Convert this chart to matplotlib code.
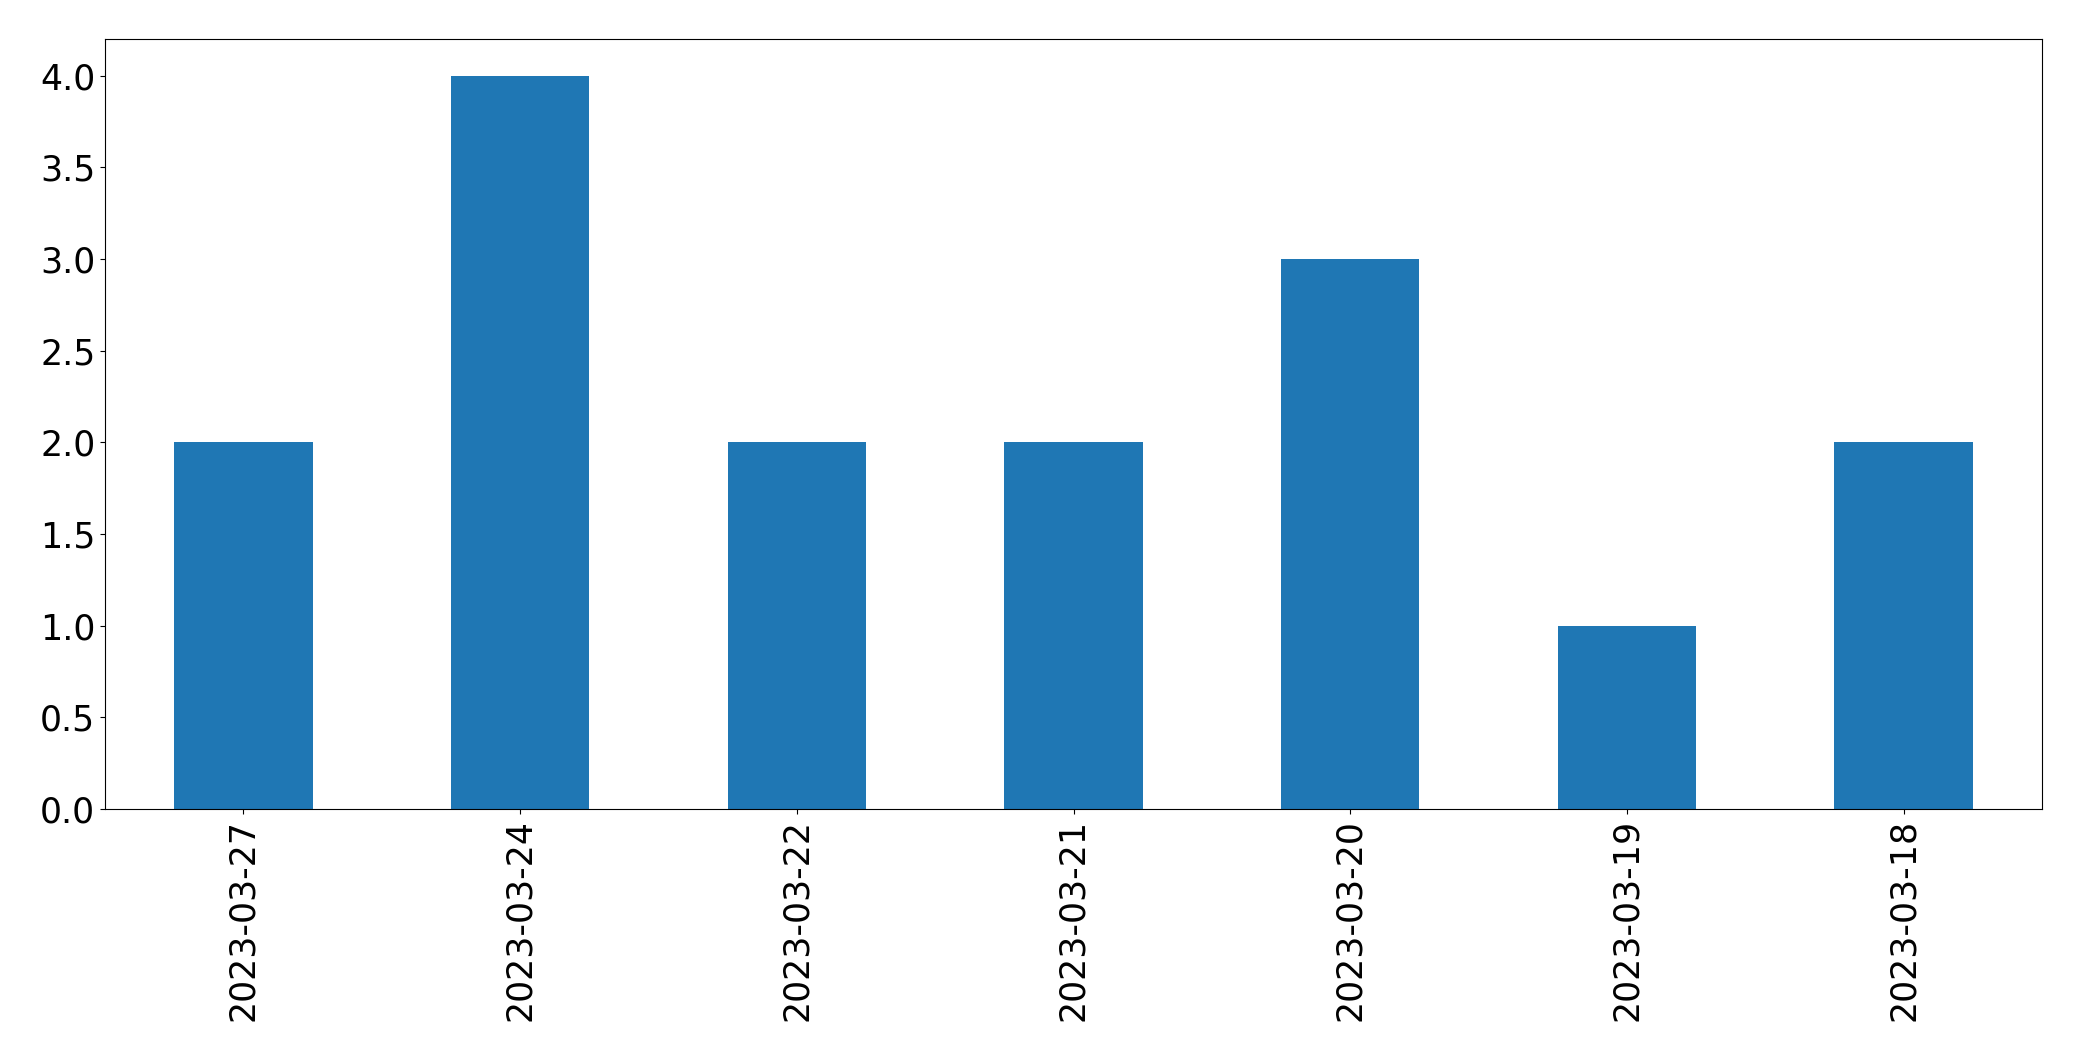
import numpy as np
import matplotlib.pyplot as plt

dates = ['2023-03-27', '2023-03-24', '2023-03-22', '2023-03-21',
         '2023-03-20', '2023-03-19', '2023-03-18']
counts = [2, 4, 2, 2, 3, 1, 2]

W, H = 2082, 1061
fig = plt.figure(figsize=(W / 100, H / 100), dpi=100)
ax = fig.add_axes([105 / W, 1 - 809 / H, (2042 - 105) / W, (809 - 39) / H])

x = np.arange(len(dates))
ax.bar(x, counts, width=0.5, color='#1f77b4')
ax.set_xlim(-0.5, len(dates) - 0.5)
ax.set_ylim(0, max(counts) * 1.05)
ax.set_xticks(x)
ax.set_xticklabels(dates, rotation=90)
ax.tick_params(axis='both', labelsize=25)

fig.savefig('out.png', dpi=100)
